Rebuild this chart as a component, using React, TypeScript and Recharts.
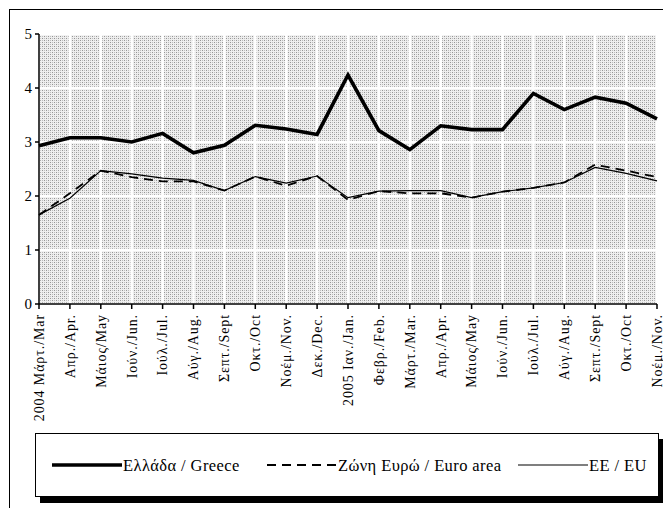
import React from 'react';
import { LineChart, Line, XAxis, YAxis, CartesianGrid } from 'recharts';

const categories = ['2004 Μάρτ./Mar', 'Απρ./Apr.', 'Μάιος/May', 'Ιούν./Jun.', 'Ιούλ./Jul.', 'Αύγ./Aug.', 'Σεπτ./Sept', 'Οκτ./Oct', 'Νοέμ./Nov.', 'Δεκ./Dec.', '2005 Ιαν./Jan.', 'Φεβρ./Feb.', 'Μάρτ./Mar.', 'Απρ./Apr.', 'Μάιος/May', 'Ιούν./Jun.', 'Ιούλ./Jul.', 'Αύγ./Aug.', 'Σεπτ./Sept', 'Οκτ./Oct', 'Νοέμ./Nov.'];
const greece = [2.93, 3.08, 3.08, 3.0, 3.16, 2.8, 2.94, 3.31, 3.24, 3.14, 4.24, 3.21, 2.86, 3.3, 3.23, 3.23, 3.9, 3.6, 3.83, 3.72, 3.43];
const euroArea = [1.65, 2.05, 2.47, 2.35, 2.27, 2.27, 2.1, 2.36, 2.19, 2.37, 1.93, 2.09, 2.05, 2.05, 1.97, 2.08, 2.15, 2.25, 2.58, 2.47, 2.35];
const eu = [1.65, 1.96, 2.47, 2.41, 2.33, 2.29, 2.1, 2.36, 2.24, 2.37, 1.97, 2.09, 2.1, 2.1, 1.97, 2.08, 2.15, 2.25, 2.53, 2.42, 2.28];
const yTicks = [0, 1, 2, 3, 4, 5];
const seriesNames = ['Ελλάδα / Greece', 'Ζώνη Ευρώ / Euro area', 'ΕΕ / EU'];

const data = categories.map((c, i) => ({ idx: i, greece: greece[i], euro: euroArea[i], eu: eu[i] }));

const FONT = "'Liberation Serif', 'Times New Roman', serif";

const XTick = (props: any) => {
  const { x, y, payload } = props;
  const label = categories[payload.value];
  return (
    <text
      x={x}
      y={y + 3}
      transform={`rotate(-90, ${x}, ${y + 3})`}
      textAnchor="end"
      dy="0.35em"
      fontFamily={FONT}
      fontSize={14}
      letterSpacing={0.9}
      fill="#000"
    >
      {label}
    </text>
  );
};

const legendStyles = [
  { w: 3.6, dash: undefined as string | undefined },
  { w: 1.8, dash: '9 6' },
  { w: 1.2, dash: undefined as string | undefined },
];

export default function App() {
  const legendX = [16, 231, 482];
  return (
    <div style={{ position: 'fixed', left: 0, top: 0, width: 663, height: 508, overflow: 'hidden', background: '#fff' }}>
      <div style={{ position: 'absolute', left: 9, top: 9, width: 680, height: 540, border: '1px solid #000' }} />
      <div style={{ position: 'absolute', left: 0, top: 0 }}>
        <LineChart width={663} height={508} data={data} margin={{ top: 34, right: 6, left: 0, bottom: 74 }}>
          <defs>
            <pattern id="dots" x="0" y="0" width="4" height="4" patternUnits="userSpaceOnUse">
              <rect x="0" y="0" width="4" height="4" fill="#eeeeee" />
              <rect x="0" y="0" width="1" height="1" fill="#959595" />
              <rect x="2" y="2" width="1" height="1" fill="#959595" />
              <rect x="2" y="0" width="1" height="1" fill="#bdbdbd" />
              <rect x="0" y="2" width="1" height="1" fill="#bdbdbd" />
            </pattern>
          </defs>
          <CartesianGrid fill="url(#dots)" fillOpacity={1} stroke="#ffffff" strokeWidth={2.5} horizontal vertical />
          <XAxis
            dataKey="idx"
            type="category"
            height={130}
            interval={0}
            tick={<XTick />}
            tickLine={{ stroke: '#000', strokeWidth: 1.5 }}
            tickSize={5}
            axisLine={{ stroke: '#000', strokeWidth: 1.5 }}
          />
          <YAxis
            domain={[0, 5]}
            ticks={yTicks}
            width={39}
            interval={0}
            tickSize={4}
            tickMargin={3}
            tick={{ fontFamily: FONT, fontSize: 15, fill: '#000' }}
            tickLine={{ stroke: '#000', strokeWidth: 1.5 }}
            axisLine={{ stroke: '#000', strokeWidth: 1.5 }}
          />
          <Line dataKey="greece" stroke="#000" strokeWidth={3.6} dot={false} isAnimationActive={false} />
          <Line dataKey="euro" stroke="#000" strokeWidth={1.8} strokeDasharray="9 6" dot={false} isAnimationActive={false} />
          <Line dataKey="eu" stroke="#000" strokeWidth={1.2} dot={false} isAnimationActive={false} />
        </LineChart>
      </div>
      <div
        style={{
          position: 'absolute',
          left: 35,
          top: 433,
          width: 622,
          height: 62,
          border: '1px solid #000',
          boxShadow: '5px 6px 0 #000',
          background: '#fff',
        }}
      >
        <svg width={622} height={62} style={{ display: 'block' }}>
          {seriesNames.map((n, i) => (
            <g key={i}>
              <line
                x1={legendX[i]}
                y1={31}
                x2={legendX[i] + 70}
                y2={31}
                stroke="#000"
                strokeWidth={legendStyles[i].w}
                strokeDasharray={legendStyles[i].dash}
              />
              <text
                x={legendX[i] + 71}
                y={31}
                dy="0.35em"
                fontFamily={FONT}
                fontSize={16.5}
                letterSpacing={0.4}
                fill="#000"
              >
                {n}
              </text>
            </g>
          ))}
        </svg>
      </div>
    </div>
  );
}
